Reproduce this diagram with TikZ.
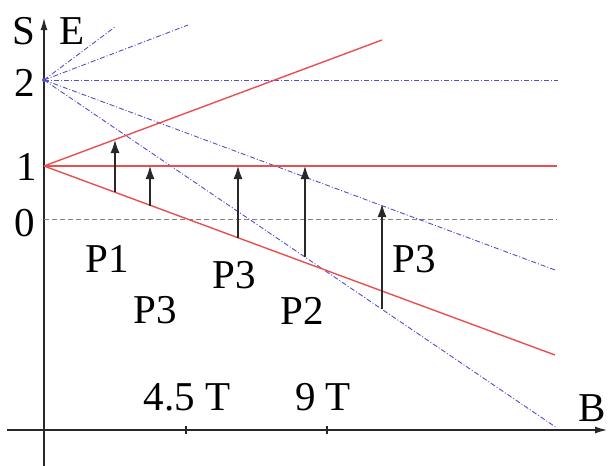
\documentclass[tikz,border=0pt]{standalone}
\usepackage{fontspec}
\setmainfont{Liberation Serif}
\usetikzlibrary{arrows.meta}
\definecolor{redline}{RGB}{232,80,80}
\definecolor{blueline}{RGB}{80,80,200}
\definecolor{axisgray}{RGB}{40,40,40}
\begin{document}
\begin{tikzpicture}[x=1pt,y=-1pt,
  lbl/.style={inner sep=0pt,font=\fontsize{41}{48}\selectfont},
  axisline/.style={draw=axisgray,line width=1.2pt},
  redl/.style={draw=redline,line width=1.4pt},
  bluel/.style={draw=blueline,line width=0.9pt,dash pattern=on 5pt off 2pt on 1pt off 2pt},
  zerol/.style={draw=gray,line width=0.9pt,dash pattern=on 5pt off 3pt},
  uparrow/.style={draw=axisgray,line width=1.2pt,-{Latex[length=13pt,width=9pt]}}]
\useasboundingbox (0,0) rectangle (608,466);
% key points
\coordinate (O) at (44,430);
\coordinate (Ytop) at (44,18);
\coordinate (Ybot) at (44,466);
\coordinate (Xl) at (7,430);
\coordinate (Xr) at (607,430);
\coordinate (P2pt) at (44,80);
\coordinate (P1pt) at (44,166);
\coordinate (Z0) at (44,219);
\coordinate (Z1) at (557,219);
% axes
\draw[axisline,-{Latex[length=12pt,width=7pt]}] (Ybot) -- (Ytop);
\draw[axisline,-{Latex[length=12pt,width=7pt]}] (Xl) -- (Xr);
\coordinate (t1) at (186,430);
\coordinate (t2) at (327,430);
\draw[axisline] ([yshift=-4pt]t1) -- ([yshift=4pt]t1);
\draw[axisline] ([yshift=-4pt]t2) -- ([yshift=4pt]t2);
% zero line
\draw[zerol] (Z0) -- (Z1);
% blue lines from level 2
\coordinate (b1) at (115,27);
\coordinate (b2) at (188,25);
\coordinate (b3) at (558,80);
\coordinate (b4) at (555,270);
\coordinate (b5) at (557,428);
\draw[bluel] (P2pt) -- (b1);
\draw[bluel] (P2pt) -- (b2);
\draw[bluel] (P2pt) -- (b3);
\draw[bluel] (P2pt) -- (b4);
\draw[bluel] (P2pt) -- (b5);
\fill[blueline] (P2pt) circle (2pt);
% red lines from level 1
\coordinate (r1) at (382,40);
\coordinate (r2) at (557,166);
\coordinate (r3) at (555,355);
\draw[redl] (P1pt) -- (r1);
\draw[redl] (P1pt) -- (r2);
\draw[redl] (P1pt) -- (r3);
% transition arrows
\coordinate (a1s) at (115,192); \coordinate (a1e) at (115,140);
\coordinate (a2s) at (150,206); \coordinate (a2e) at (150,166);
\coordinate (a3s) at (238,238); \coordinate (a3e) at (238,166);
\coordinate (a4s) at (305,257); \coordinate (a4e) at (305,166);
\coordinate (a5s) at (382,309); \coordinate (a5e) at (382,204);
\draw[uparrow] (a1s) -- (a1e);
\draw[uparrow] (a2s) -- (a2e);
\draw[uparrow] (a3s) -- (a3e);
\draw[uparrow] (a4s) -- (a4e);
\draw[uparrow] (a5s) -- (a5e);
% labels
\node[lbl] (S) at (24,31) {S};
\node[lbl] (E) at (72,31) {E};
\node[lbl] (l2) at (25,83) {2};
\node[lbl] (l1) at (27,167) {1};
\node[lbl] (l0) at (25,223) {0};
\node[lbl] (B) at (592,408) {B};
\node[lbl] (x1) at (187,397) {4.5 T};
\node[lbl] (x2) at (323,397) {9 T};
\node[lbl] (p1) at (107,259) {P1};
\node[lbl] (p3a) at (155,310) {P3};
\node[lbl] (p3b) at (234,275) {P3};
\node[lbl] (p2) at (302,311) {P2};
\node[lbl] (p3c) at (414,259) {P3};
\end{tikzpicture}
\end{document}
